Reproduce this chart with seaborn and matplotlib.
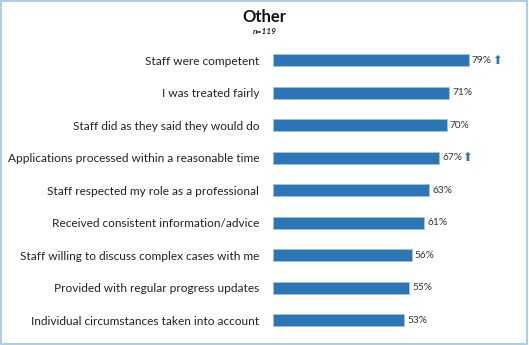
import matplotlib
matplotlib.use("Agg")
import matplotlib.pyplot as plt
import seaborn as sns
import pandas as pd
from matplotlib.patches import Rectangle

categories = [
    "Staff were competent",
    "I was treated fairly",
    "Staff did as they said they would do",
    "Applications processed within a reasonable time",
    "Staff respected my role as a professional",
    "Received consistent information/advice",
    "Staff willing to discuss complex cases with me",
    "Provided with regular progress updates",
    "Individual circumstances taken into account",
]
values = [79, 71, 70, 67, 63, 61, 56, 55, 53]
arrows = [True, False, False, True, False, False, False, False, False]

df = pd.DataFrame({"cat": categories, "val": values})

sns.set_theme(style="white")
plt.rcParams['font.family'] = ['Lato', 'DejaVu Sans']

fig = plt.figure(figsize=(5.29, 3.45), dpi=100)
ax = fig.add_axes([0.516, 0.025, 0.469, 0.848])
bar_color = "#2E75B6"
sns.barplot(data=df, x="val", y="cat", orient="h", color=bar_color,
            width=0.37, edgecolor="#9DC3E6", linewidth=0.6, saturation=1, ax=ax)
ax.set_xlim(0, 100)
ax.set_ylim(8.5, -0.5)
ax.set_xlabel("")
ax.set_ylabel("")
ax.set_xticks([])
ax.tick_params(axis="y", length=0, pad=10, labelsize=8.6, colors="#222222")
for s in ax.spines.values():
    s.set_visible(False)

for i, (v, a) in enumerate(zip(values, arrows)):
    ax.text(v + 1.2, i, f"{v}%", va="center", ha="left", fontsize=7.3, color="#333333")
    if a:
        ax.text(v + 9.4, i, "\u2B06", va="center", ha="left", fontsize=8.5,
                color=bar_color, family=["DejaVu Sans"])

fig.text(0.5, 0.95, "Other", ha="center", va="center", fontsize=12, fontweight="bold", color="#111111")
fig.text(0.5, 0.908, "n=119", ha="center", va="center", fontsize=6, fontstyle="italic", fontweight="bold", color="#222222")

fig.patches.append(Rectangle((0.002, 0.003), 0.995, 0.993, transform=fig.transFigure,
                             fill=False, edgecolor="#9DC3E6", linewidth=1.2))

fig.savefig("out.png", dpi=100)
